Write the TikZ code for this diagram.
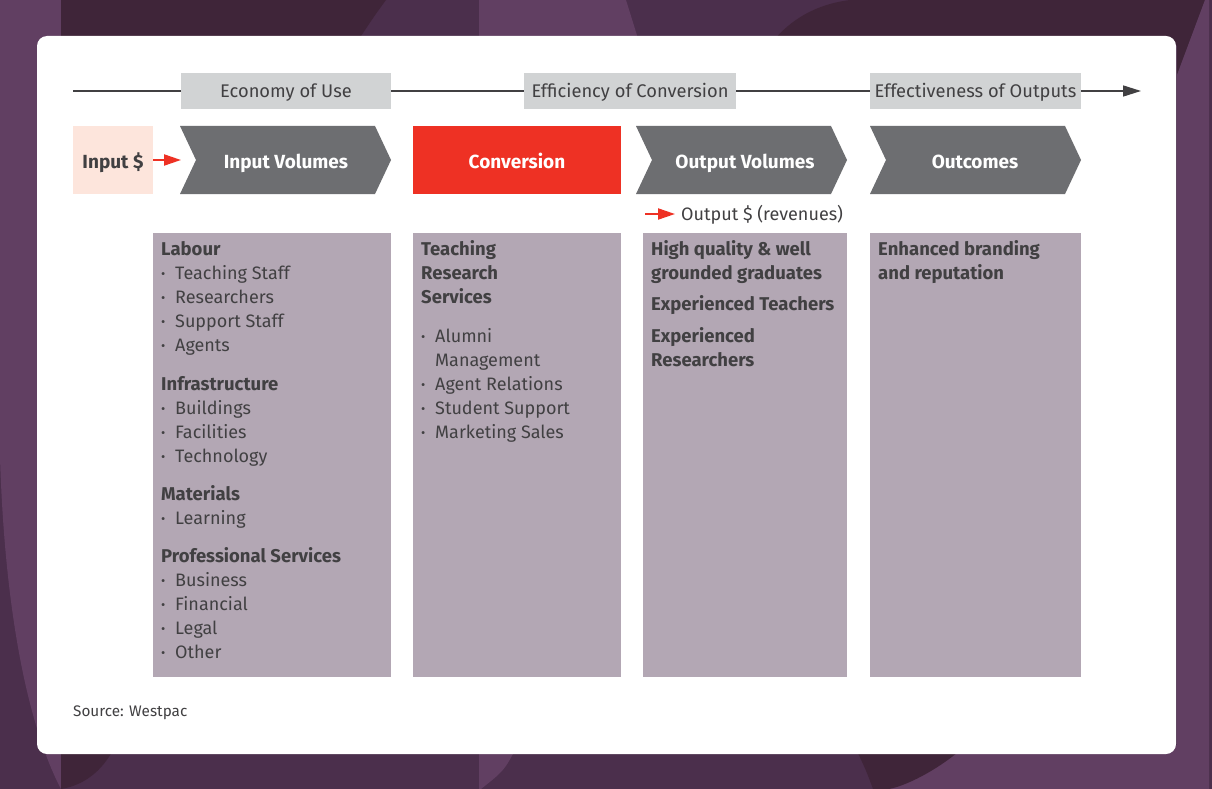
\documentclass[tikz,border=0pt]{standalone}
\usepackage{fontspec}
\setmainfont{Fira Sans}
\usetikzlibrary{arrows.meta}

\definecolor{bgmid}{HTML}{4B2F4C}
\definecolor{bglight}{HTML}{613F62}
\definecolor{bgdark}{HTML}{3F2539}
\definecolor{ink}{HTML}{414042}
\definecolor{chevgray}{HTML}{6D6E71}
\definecolor{accent}{HTML}{EE3124}
\definecolor{peach}{HTML}{FDE5DC}
\definecolor{panelfill}{HTML}{B3A7B4}
\definecolor{titlegray}{HTML}{D1D3D4}

% chevron from x=#1 to x=#2 on the step row
\newcommand{\chevron}[2]{\fill[chevgray] (#1,126) -- (#2-16,126) -- (#2,160) -- (#2-16,194) -- (#1,194) -- (#1+16,160) -- cycle;}
\newcommand{\bul}{\makebox[14pt][l]{\raisebox{0.6pt}{\fontsize{13}{13}\selectfont\textbullet}}}

\tikzset{
	ttl/.style={fill=titlegray, text=ink, minimum height=36, inner sep=0, text height=12.6pt, text depth=0pt, font=\fontsize{18.3}{20}\selectfont},
	steplabel/.style={text=white, inner sep=0, text height=13pt, text depth=0pt, font=\bfseries\fontsize{19}{20}\selectfont},
	panel/.style={fill=panelfill, anchor=north west, inner sep=0},
	head/.style={anchor=base west, inner sep=0, text=ink, font=\bfseries\fontsize{18.5}{20}\selectfont},
	item/.style={anchor=base west, inner sep=0, text=ink, font=\fontsize{18}{20}\selectfont},
	redarrow/.style={accent, line width=2, -{Triangle[length=17pt,width=11pt]}},
}

\begin{document}
\begin{tikzpicture}[x=1pt, y=-1pt]
	\useasboundingbox (0,0) rectangle (1212,789);

	% background
	\fill[bgmid] (0,0) rectangle (1212,789);
	\fill[bglight] (0,0) -- (61,0) -- (61,789) .. controls (30,730) and (5,620) .. (0,457) -- cycle;
	\fill[bgdark] (61,0) -- (386,0) .. controls (375,15) .. (355,45) -- (61,45) -- cycle;
	\fill[bgdark] (61,740) -- (118,740) .. controls (105,770) and (85,785) .. (61,789) -- cycle;
	\fill[bglight] (479,0) -- (626,0) -- (640,45) -- (479,45) -- cycle;
	\fill[bglight] (479,740) -- (520,740) .. controls (505,770) .. (481,789) -- (479,789) -- cycle;
	\fill[bgdark] (850,0) .. controls (810,5) and (785,25) .. (770,45) -- (1177,45) -- (1177,75) -- (1205,0) -- cycle;
	\fill[bglight] (1205,0) -- (1209,0) -- (1209,789) -- (889,789) .. controls (920,770) and (950,752) .. (966,745) -- (1177,745) -- (1177,75) -- cycle;
	\fill[bgdark] (854,745) -- (966,745) .. controls (945,765) and (910,785) .. (889,789) -- (873,789) .. controls (866,770) .. (854,745) -- cycle;

	% card
	\fill[white, rounded corners=10] (37,36) rectangle (1176,754);

	% axis with the three measures
	\coordinate (axstart) at (73,91);
	\coordinate (axend)   at (1141,91);
	\draw[ink, line width=1.5, -{Triangle[length=18pt,width=11pt]}] (axstart) -- (axend);

	\node[ttl, minimum width=210] (econ)  at (286,91) {Economy of Use};
	\node[ttl, minimum width=212] (effic) at (630,91) {Efficiency of Conversion};
	\node[ttl, minimum width=211] (effec) at (975.5,91) {Effectiveness of Outputs};

	% step row
	\node[fill=peach, minimum width=80, minimum height=68, inner sep=0] (inpd) at (113,160) {};
	\node[text=ink, inner sep=0, text height=13pt, text depth=0pt,
		font=\bfseries\fontsize{19}{20}\selectfont] (inpdl) at (113,161.5) {Input \$};
	\chevron{180}{391}
	\chevron{636}{847}
	\chevron{870}{1081}
	\node[fill=accent, minimum width=208, minimum height=68, inner sep=0] (conv) at (517,160) {};

	\node[steplabel] (invol)  at (286,161.5) {Input Volumes};
	\node[steplabel] (convl)  at (517,161.5) {Conversion};
	\node[steplabel] (outvol) at (745,161.5) {Output Volumes};
	\node[steplabel] (outc)   at (975,161.5) {Outcomes};

	\coordinate (invin) at (181,160);
	\draw[redarrow] (inpd.east) -- (invin);

	\coordinate (revstart) at (645,214);
	\coordinate (revend)   at (675,214);
	\node[item] (rev) at (681,220) {Output \$ (revenues)};
	\draw[redarrow] (revstart) -- (revend);

	% panels
	\node[panel, minimum width=238, minimum height=444] (p1) at (153,233) {};
	\node[panel, minimum width=208, minimum height=444] (p2) at (413,233) {};
	\node[panel, minimum width=204, minimum height=444] (p3) at (643,233) {};
	\node[panel, minimum width=211, minimum height=444] (p4) at (870,233) {};

	% input volumes
	\node[head] (labour) at (161,255) {Labour};
	\foreach \t [count=\i] in {Teaching Staff, Researchers, Support Staff, Agents}
		\node[item] (labour\i) at (161,255+24*\i) {\bul\t};
	\node[head] (infra) at (161,390) {Infrastructure};
	\foreach \t [count=\i] in {Buildings, Facilities, Technology}
		\node[item] (infra\i) at (161,390+24*\i) {\bul\t};
	\node[head] (mat) at (161,500) {Materials};
	\node[item] (mat1) at (161,524) {\bul Learning};
	\node[head] (prof) at (161,562) {Professional Services};
	\foreach \t [count=\i] in {Business, Financial, Legal, Other}
		\node[item] (prof\i) at (161,562+24*\i) {\bul\t};

	% conversion
	\foreach \t [count=\i] in {Teaching, Research, Services}
		\node[head] (conv\i) at (421,231+24*\i) {\t};
	\node[item] (alum)  at (421,342) {\bul Alumni};
	\node[item] (mgmt)  at (421,366) {\hspace*{14pt}Management};
	\node[item] (agent) at (421,390) {\bul Agent Relations};
	\node[item] (stud)  at (421,414) {\bul Student Support};
	\node[item] (mkt)   at (421,438) {\bul Marketing Sales};

	% output volumes
	\node[head] (grad1) at (651,255) {High quality \& well};
	\node[head] (grad2) at (651,279) {grounded graduates};
	\node[head] (teach) at (651,310) {Experienced Teachers};
	\node[head] (res1)  at (651,342) {Experienced};
	\node[head] (res2)  at (651,366) {Researchers};

	% outcomes
	\node[head] (brand1) at (878,255) {Enhanced branding};
	\node[head] (brand2) at (878,279) {and reputation};

	\node[item, font=\fontsize{15.3}{16}\selectfont] (src) at (73,716) {Source: Westpac};
\end{tikzpicture}
\end{document}
